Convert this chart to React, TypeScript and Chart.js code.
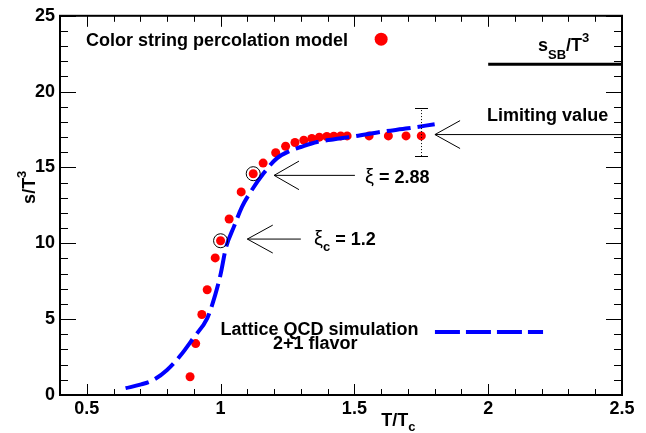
import React, { useEffect, useRef } from "react";
import { Chart, registerables } from "chart.js";

Chart.register(...registerables);

// ---- data ----
const percolationT = [0.886, 0.907, 0.93, 0.95, 0.98, 1.0, 1.032, 1.077, 1.122, 1.159, 1.206, 1.243, 1.278, 1.311, 1.341, 1.369, 1.397, 1.423, 1.449, 1.473, 1.555, 1.627, 1.693, 1.75];
const percolationS = [1.2, 3.39, 5.31, 6.94, 9.04, 10.17, 11.6, 13.39, 14.59, 15.29, 15.97, 16.4, 16.65, 16.8, 16.91, 17.0, 17.04, 17.06, 17.08, 17.08, 17.08, 17.08, 17.08, 17.08];
const circledIdx = [5, 8];

const latticeT = [0.645, 0.7, 0.75, 0.8, 0.85, 0.9, 0.95, 0.98, 1.0, 1.02, 1.05, 1.08, 1.12, 1.16, 1.21, 1.26, 1.3, 1.36, 1.42, 1.5, 1.6, 1.7, 1.8];
const latticeS = [0.45, 0.68, 1.0, 1.65, 2.6, 3.8, 5.05, 6.6, 7.95, 9.7, 11.1, 12.4, 13.6, 14.6, 15.6, 16.1, 16.35, 16.68, 16.85, 17.05, 17.35, 17.58, 17.85];

const sbT = [2.0, 2.5];
const sbS = [21.8, 21.8];

const errT = [1.75];
const errLow = [15.75];
const errHigh = [18.92];

const xTickValues = [0.5, 1, 1.5, 2, 2.5];
const yTickValues = [0, 5, 10, 15, 20, 25];

const FONT = "'Liberation Sans', Arial, Helvetica, sans-serif";

type Part = { t: string; size: number; dy?: number; weight?: string };

function drawParts(ctx: CanvasRenderingContext2D, parts: Part[], x: number, y: number, align: "left" | "center" = "left") {
  let total = 0;
  const widths: number[] = [];
  for (const p of parts) {
    ctx.font = `${p.weight ?? "bold"} ${p.size}px ${FONT}`;
    const w = ctx.measureText(p.t).width;
    widths.push(w);
    total += w;
  }
  let cx = align === "center" ? x - total / 2 : x;
  ctx.textAlign = "left";
  ctx.textBaseline = "alphabetic";
  parts.forEach((p, i) => {
    ctx.font = `${p.weight ?? "bold"} ${p.size}px ${FONT}`;
    ctx.fillText(p.t, cx, y + (p.dy ?? 0));
    cx += widths[i];
  });
}

function arrow(ctx: CanvasRenderingContext2D, tipX: number, tipY: number, tailX: number, headX: number, headUp: number, headDown: number) {
  ctx.beginPath();
  ctx.moveTo(tailX, tipY);
  ctx.lineTo(tipX, tipY);
  ctx.moveTo(headX, headUp);
  ctx.lineTo(tipX, tipY);
  ctx.lineTo(headX, headDown);
  ctx.stroke();
}

const decorPlugin = {
  id: "decor",
  afterDatasetsDraw(chart: any) {
    const ctx: CanvasRenderingContext2D = chart.ctx;
    const xs = chart.scales.x;
    const ys = chart.scales.y;
    const a = chart.chartArea;
    const X = (v: number) => xs.getPixelForValue(v);
    const Y = (v: number) => ys.getPixelForValue(v);
    ctx.save();

    // error bar
    ctx.strokeStyle = "#000";
    ctx.lineWidth = 1;
    errT.forEach((t, i) => {
      const px = Math.round(X(t)) + 0.5;
      const lo = Y(errLow[i]);
      const hi = Y(errHigh[i]);
      ctx.setLineDash([1, 2]);
      ctx.beginPath();
      ctx.moveTo(px, lo);
      ctx.lineTo(px, hi);
      ctx.stroke();
      ctx.setLineDash([]);
      ctx.beginPath();
      ctx.moveTo(px - 6.5, Math.round(lo) + 0.5);
      ctx.lineTo(px + 6.5, Math.round(lo) + 0.5);
      ctx.moveTo(px - 6.5, Math.round(hi) + 0.5);
      ctx.lineTo(px + 6.5, Math.round(hi) + 0.5);
      ctx.stroke();
    });

    // frame
    ctx.lineWidth = 2;
    ctx.strokeRect(a.left, a.top, a.right - a.left, a.bottom - a.top);

    // ticks
    ctx.lineWidth = 1;
    ctx.beginPath();
    for (let i = 4; i <= 25; i++) {
      const v = i / 10;
      const major = i % 5 === 0;
      const px = Math.round(X(v)) + 0.5;
      const len = major ? 11 : 6;
      ctx.moveTo(px, a.bottom);
      ctx.lineTo(px, a.bottom - len);
      ctx.moveTo(px, a.top);
      ctx.lineTo(px, a.top + len);
    }
    for (let i = 0; i <= 25; i++) {
      const major = i % 5 === 0;
      const py = Math.round(Y(i)) + 0.5;
      const len = major ? 16 : 8;
      ctx.moveTo(a.left, py);
      ctx.lineTo(a.left + len, py);
      ctx.moveTo(a.right, py);
      ctx.lineTo(a.right - len, py);
    }
    ctx.stroke();

    ctx.fillStyle = "#000";
    // legend: percolation
    drawParts(ctx, [{ t: "Color string percolation model", size: 18 }], X(0.497), Y(23.03));
    ctx.fillStyle = "#ff0000";
    ctx.beginPath();
    ctx.arc(X(1.6), Y(23.46), 6.5, 0, Math.PI * 2);
    ctx.fill();

    // legend: lattice
    ctx.fillStyle = "#000";
    drawParts(ctx, [{ t: "Lattice QCD simulation", size: 18 }], X(1.0), Y(3.98));
    drawParts(ctx, [{ t: "2+1 flavor", size: 18 }], X(1.196), Y(3.0));
    ctx.strokeStyle = "#0000ff";
    ctx.lineWidth = 4;
    ctx.setLineDash([25, 6]);
    ctx.beginPath();
    ctx.moveTo(X(1.801), Y(4.15));
    ctx.lineTo(X(2.205), Y(4.15));
    ctx.stroke();
    ctx.setLineDash([]);

    // SB label
    ctx.fillStyle = "#000";
    drawParts(ctx, [
      { t: "s", size: 18 },
      { t: "SB", size: 13, dy: 8 },
      { t: "/T", size: 18 },
      { t: "3", size: 13, dy: -9 },
    ], X(2.186), Y(22.67));

    // arrows
    ctx.strokeStyle = "#000";
    ctx.lineWidth = 1;
    arrow(ctx, X(1.801), Y(17.17), a.right, X(1.895), Y(18.09), Y(16.25));
    arrow(ctx, X(1.2), Y(14.48), X(1.502), X(1.293), Y(15.42), Y(13.54));
    arrow(ctx, X(1.1), Y(10.28), X(1.3), X(1.195), Y(11.2), Y(9.36));

    drawParts(ctx, [{ t: "Limiting value", size: 18 }], X(1.996), Y(18.04));
    drawParts(ctx, [
      { t: "ξ", size: 20, weight: "normal" },
      { t: " = 2.88", size: 18 },
    ], X(1.54), Y(13.98));
    drawParts(ctx, [
      { t: "ξ", size: 20, weight: "normal" },
      { t: "c", size: 13, dy: 6 },
      { t: " = 1.2", size: 18 },
    ], X(1.349), Y(9.91));

    // axis titles
    drawParts(ctx, [
      { t: "T/T", size: 18 },
      { t: "c", size: 13, dy: 5 },
    ], X(1.6), a.bottom + 31);

    ctx.save();
    ctx.translate(a.left - 25, Y(12.6));
    ctx.rotate(-Math.PI / 2);
    drawParts(ctx, [
      { t: "s/T", size: 18 },
      { t: "3", size: 13, dy: -9 },
    ], 0, 0);
    ctx.restore();

    ctx.restore();
  },
};

export default function App() {
  const ref = useRef<HTMLCanvasElement | null>(null);
  useEffect(() => {
    document.body.style.margin = "0";
    const canvas = ref.current;
    if (!canvas) return;
    const perc = percolationT.map((t, i) => ({ x: t, y: percolationS[i] }));
    const circled = circledIdx.map((i) => ({ x: percolationT[i], y: percolationS[i] }));
    const lattice = latticeT.map((t, i) => ({ x: t, y: latticeS[i] }));
    const sb = sbT.map((t, i) => ({ x: t, y: sbS[i] }));
    const tickFont = { family: FONT, size: 18, weight: "bold" as const };
    const chart = new Chart(canvas, {
      type: "scatter",
      data: {
        datasets: [
          {
            label: "circled",
            data: circled,
            pointRadius: 7,
            pointBackgroundColor: "rgba(0,0,0,0)",
            pointBorderColor: "#000",
            pointBorderWidth: 1,
            showLine: false,
          },
          {
            label: "Lattice QCD simulation 2+1 flavor",
            data: lattice,
            showLine: true,
            borderColor: "#0000ff",
            borderWidth: 4,
            borderDash: [24, 7],
            borderCapStyle: "butt",
            pointRadius: 0,
            cubicInterpolationMode: "monotone",
            fill: false,
          },
          {
            label: "SB",
            data: sb,
            showLine: true,
            borderColor: "#000",
            borderWidth: 3,
            pointRadius: 0,
          },
          {
            label: "Color string percolation model",
            data: perc,
            pointRadius: 4.5,
            pointBackgroundColor: "#ff0000",
            pointBorderWidth: 0,
            showLine: false,
          },
        ],
      },
      options: {
        responsive: false,
        animation: false,
        events: [],
        layout: { padding: { top: 14, right: 24, left: 0, bottom: 0 } },
        plugins: { legend: { display: false }, tooltip: { enabled: false } },
        scales: {
          x: {
            type: "linear",
            min: 0.4,
            max: 2.5,
            grid: { display: false, drawTicks: false },
            border: { display: false },
            afterBuildTicks: (s: any) => {
              s.ticks = xTickValues.map((v) => ({ value: v }));
            },
            afterFit: (s: any) => {
              s.height = 38;
            },
            ticks: {
              autoSkip: false,
              maxRotation: 0,
              padding: 3,
              color: "#000",
              font: tickFont,
              callback: (v: any) => String(v),
            },
          },
          y: {
            type: "linear",
            min: 0,
            max: 25,
            grid: { display: false, drawTicks: false },
            border: { display: false },
            afterBuildTicks: (s: any) => {
              s.ticks = yTickValues.map((v) => ({ value: v }));
            },
            afterFit: (s: any) => {
              s.width = 60;
            },
            ticks: {
              autoSkip: false,
              padding: 5,
              color: "#000",
              font: tickFont,
              callback: (v: any) => String(v),
            },
          },
        },
      },
      plugins: [decorPlugin],
    });
    return () => chart.destroy();
  }, []);
  return <canvas ref={ref} width={646} height={433} style={{ display: "block" }} />;
}
